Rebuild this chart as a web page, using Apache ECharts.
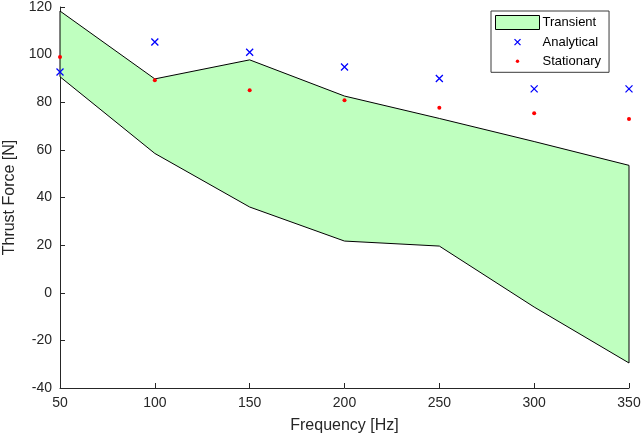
<!DOCTYPE html>
<html>
<head>
<meta charset="utf-8">
<script src="https://cdn.jsdelivr.net/npm/echarts@6/dist/echarts.min.js"></script>
<style>
html,body{margin:0;padding:0;background:#fff;}
#main{width:641px;height:443px;}
</style>
</head>
<body>
<div id="main"></div>
<script>
// Data
var frequencies = [50, 100, 150, 200, 250, 300, 350];
var transientUpper = [118.3, 89.8, 97.8, 82.6, 73.2, 63.5, 53.5];
var transientLower = [90.7, 58.5, 36.0, 21.7, 19.6, -6.0, -29.5];
var analytical = [92.7, 105.3, 101.0, 94.8, 90.0, 85.6, 85.6];
var stationary = [99.0, 89.2, 85.0, 80.8, 77.7, 75.4, 73.0];
var xTicks = [50, 100, 150, 200, 250, 300, 350];
var yTicks = [-40, -20, 0, 20, 40, 60, 80, 100, 120];

var axisColor = '#262626';
var font = "Arial, 'Liberation Sans', Helvetica, sans-serif";

function pairs(xs, ys) {
  return xs.map(function (x, i) { return [x, ys[i]]; });
}

var chart = echarts.init(document.getElementById('main'), null, {renderer: 'canvas'});

var option = {
  animation: false,
  backgroundColor: '#ffffff',
  grid: {left: 60, right: 12, top: 7, bottom: 55, containLabel: false, outerBoundsMode: 'none'},
  legend: {
    orient: 'vertical',
    left: 491,
    top: 11,
    padding: [4, 8, 4, 4],
    itemWidth: 44,
    itemHeight: 14,
    itemGap: 4.5,
    borderColor: '#3a3a3a',
    borderWidth: 1,
    backgroundColor: '#ffffff',
    selectedMode: false,
    textStyle: {fontFamily: font, fontSize: 13, color: '#000000', padding: [0, 0, 0, -2]},
    data: [
      {name: 'Transient', icon: 'rect',
       itemStyle: {color: '#bfffbf', borderColor: '#000000', borderWidth: 1}},
      {name: 'Analytical', icon: 'path://M0 0 M14 14 M4 4 L10 10 M10 4 L4 10',
       itemStyle: {color: 'rgba(0,0,0,0)', borderColor: '#0000ff', borderWidth: 1.3}},
      {name: 'Stationary', icon: 'path://M0 0 M14 14 M7 5.3 A1.7 1.7 0 1 1 7 8.7 A1.7 1.7 0 1 1 7 5.3 Z',
       itemStyle: {color: '#ff0000', borderWidth: 0}}
    ]
  },
  xAxis: {
    type: 'value',
    min: xTicks[0],
    max: xTicks[xTicks.length - 1],
    interval: 50,
    name: 'Frequency [Hz]',
    nameLocation: 'middle',
    nameGap: 30,
    nameTextStyle: {fontFamily: font, fontSize: 16, color: axisColor},
    axisLine: {onZero: false, lineStyle: {color: axisColor, width: 1}},
    axisTick: {inside: true, length: 5, lineStyle: {color: axisColor}},
    axisLabel: {fontFamily: font, fontSize: 14, color: axisColor, margin: 8},
    splitLine: {show: false}
  },
  yAxis: {
    type: 'value',
    min: yTicks[0],
    max: yTicks[yTicks.length - 1],
    interval: 20,
    name: 'Thrust Force [N]',
    nameLocation: 'middle',
    nameGap: 38,
    nameTextStyle: {fontFamily: font, fontSize: 16, color: axisColor},
    axisLine: {show: true, onZero: false, lineStyle: {color: axisColor, width: 1}},
    axisTick: {show: true, inside: true, length: 5, lineStyle: {color: axisColor}},
    axisLabel: {fontFamily: font, fontSize: 14, color: axisColor, margin: 8},
    splitLine: {show: false}
  },
  series: [
    {
      name: 'Transient',
      type: 'custom',
      z: 2,
      data: [[frequencies[0], transientUpper[0]]],
      renderItem: function (params, api) {
        var pts = [];
        for (var i = 0; i < frequencies.length; i++) {
          pts.push(api.coord([frequencies[i], transientUpper[i]]));
        }
        for (var j = frequencies.length - 1; j >= 0; j--) {
          pts.push(api.coord([frequencies[j], transientLower[j]]));
        }
        return {
          type: 'polygon',
          shape: {points: pts},
          style: {fill: '#bfffbf', stroke: '#000000', lineWidth: 1}
        };
      },
      itemStyle: {color: '#bfffbf'}
    },
    {
      name: 'Analytical',
      type: 'scatter',
      z: 5,
      clip: false,
      symbol: 'path://M0 0 L10 10 M10 0 L0 10',
      symbolSize: 7,
      itemStyle: {color: 'rgba(0,0,0,0)', borderColor: '#0000ff', borderWidth: 1.3, opacity: 1},
      data: pairs(frequencies, analytical)
    },
    {
      name: 'Stationary',
      type: 'scatter',
      z: 6,
      clip: false,
      symbol: 'circle',
      symbolSize: 4,
      itemStyle: {color: '#ff0000', opacity: 1},
      data: pairs(frequencies, stationary)
    }
  ]
};

chart.setOption(option);
</script>
</body>
</html>
